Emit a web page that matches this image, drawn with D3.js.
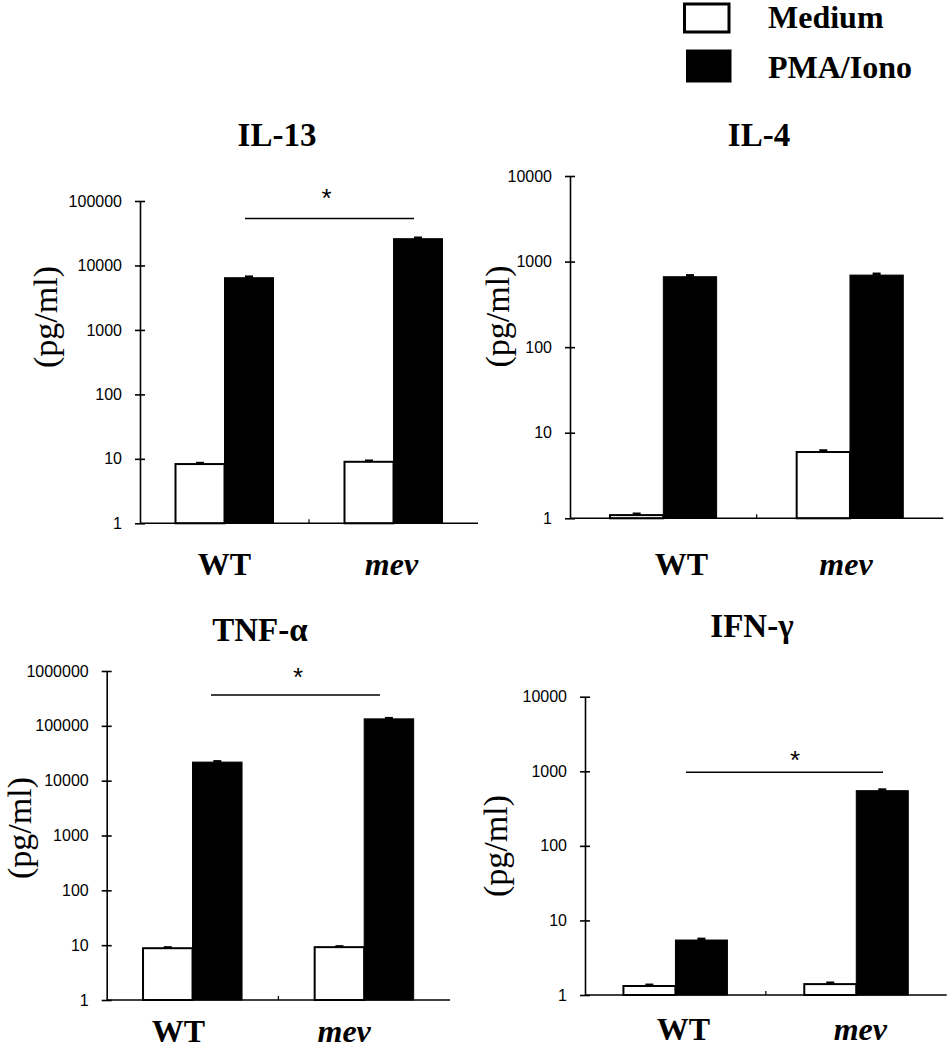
<!DOCTYPE html>
<html>
<head>
<meta charset="utf-8">
<script src="https://cdn.jsdelivr.net/npm/d3@7"></script>
<style>
  html, body { margin: 0; padding: 0; background: #fff; }
  svg { display: block; }
  .serif { font-family: "Liberation Serif", "Times New Roman", Times, "DejaVu Serif", "Noto Serif", serif; }
  .sans { font-family: "Liberation Sans", Arial, Helvetica, sans-serif; }
</style>
</head>
<body>
<svg id="chart" width="948" height="1050"></svg>
<script>
// ---------- DATA ----------
const groups = ["WT", "mev"];
const series = ["Medium", "PMA/Iono"];

const il13Medium = [8.3, 9.0];
const il13Pma = [6450, 26000];
const il13MediumErr = [0.3, 0.35];
const il13PmaErr = [250, 900];
const il13Ticks = [1, 10, 100, 1000, 10000, 100000];

const il4Medium = [1.09, 5.95];
const il4Pma = [665, 695];
const il4MediumErr = [0.04, 0.25];
const il4PmaErr = [25, 25];
const il4Ticks = [1, 10, 100, 1000, 10000];

const tnfMedium = [8.8, 9.2];
const tnfPma = [21800, 134000];
const tnfMediumErr = [0.3, 0.3];
const tnfPmaErr = [700, 4000];
const tnfTicks = [1, 10, 100, 1000, 10000, 100000, 1000000];

const ifngMedium = [1.32, 1.40];
const ifngPma = [5.46, 549];
const ifngMediumErr = [0.05, 0.06];
const ifngPmaErr = [0.2, 20];
const ifngTicks = [1, 10, 100, 1000, 10000];

const titles = ["IL-13", "IL-4", "TNF-\u03b1", "IFN-\u03b3"];
const yLabel = "(pg/ml)";

// ---------- LAYOUT ----------
const svg = d3.select("#chart");

const panels = [
  { title: titles[0], med: il13Medium, pma: il13Pma, medErr: il13MediumErr, pmaErr: il13PmaErr, ticks: il13Ticks,
    x0: 140, x1: 478, yTop: 201, yBot: 523.3, barW: 49,
    titleX: 277, titleY: 146, labX: 57, labY: 317,
    sig: { x0: 245, x1: 414, y: 218.5, sx: 326.5, sy: 196 }, groupY: 575, groupDx: [0, -2] },
  { title: titles[1], med: il4Medium, pma: il4Pma, medErr: il4MediumErr, pmaErr: il4PmaErr, ticks: il4Ticks,
    x0: 570, x1: 943.3, yTop: 176, yBot: 518.3, barW: 53.3,
    titleX: 759, titleY: 146, labX: 509, labY: 316.5,
    sig: null, groupY: 575, groupDx: [18, -4] },
  { title: titles[2], med: tnfMedium, pma: tnfPma, medErr: tnfMediumErr, pmaErr: tnfPmaErr, ticks: tnfTicks,
    x0: 106.7, x1: 450, yTop: 671, yBot: 1000, barW: 49.5,
    titleX: 260, titleY: 640.5, labX: 31, labY: 828,
    sig: { x0: 211, x1: 380, y: 695, sx: 298, sy: 675 }, groupY: 1042, groupDx: [-14, -20] },
  { title: titles[3], med: ifngMedium, pma: ifngPma, medErr: ifngMediumErr, pmaErr: ifngPmaErr, ticks: ifngTicks,
    x0: 585, x1: 946.7, yTop: 696.7, yBot: 995, barW: 52,
    titleX: 752, titleY: 637, labX: 507, labY: 846,
    sig: { x0: 686, x1: 883, y: 772.3, sx: 795, sy: 758 }, groupY: 1040, groupDx: [8, 4] }
];

panels.forEach(p => {
  const g = svg.append("g");
  const domainMax = p.ticks[p.ticks.length - 1];
  const y = d3.scaleLog().domain([1, domainMax]).range([p.yBot, p.yTop]);
  const x = d3.scaleBand().domain(groups).range([p.x0, p.x1]).padding(0);

  // title
  g.append("text").attr("class", "serif")
    .attr("x", p.titleX).attr("y", p.titleY)
    .attr("text-anchor", "middle")
    .attr("font-weight", "bold").attr("font-size", 33)
    .text(p.title);

  // y axis label
  g.append("text").attr("class", "serif")
    .attr("transform", `translate(${p.labX},${p.labY}) rotate(-90)`)
    .attr("text-anchor", "middle")
    .attr("font-size", 34)
    .text(yLabel);

  // bars
  groups.forEach((grp, i) => {
    const c = x(grp) + x.bandwidth() / 2;
    const xs = d3.scaleBand().domain(series).range([c - p.barW, c + p.barW]).padding(0);
    const vals = [p.med[i], p.pma[i]];
    const errs = [p.medErr[i], p.pmaErr[i]];
    series.forEach((s, j) => {
      const v = vals[j];
      const bx = xs(s);
      const bw = xs.bandwidth();
      g.append("rect")
        .attr("x", bx).attr("y", y(v))
        .attr("width", bw).attr("height", y(1) - y(v))
        .attr("fill", j === 0 ? "#fff" : "#000")
        .attr("stroke", "#000").attr("stroke-width", j === 0 ? 2 : 1);
      const cx = bx + bw / 2;
      g.append("line")
        .attr("x1", cx).attr("x2", cx)
        .attr("y1", y(v)).attr("y2", y(v + errs[j]))
        .attr("stroke", "#000").attr("stroke-width", 2);
      g.append("line")
        .attr("x1", cx - 4).attr("x2", cx + 4)
        .attr("y1", y(v + errs[j])).attr("y2", y(v + errs[j]))
        .attr("stroke", "#000").attr("stroke-width", 2.5);
    });
  });

  // y axis
  const ax = g.append("g").attr("transform", `translate(${p.x0},0)`)
    .call(d3.axisLeft(y).tickValues(p.ticks).tickFormat(d3.format("d")).tickSize(0).tickPadding(18));
  ax.select(".domain").attr("stroke", "#000").attr("stroke-width", 1.6);
  ax.selectAll(".tick text").attr("class", "sans").attr("font-family", null)
    .attr("font-size", 16).attr("fill", "#000");
  ax.selectAll(".tick").append("line")
    .attr("x1", -5).attr("x2", 5).attr("stroke", "#000").attr("stroke-width", 1.6);

  // x axis line
  g.append("line")
    .attr("x1", p.x0).attr("x2", p.x1)
    .attr("y1", p.yBot).attr("y2", p.yBot)
    .attr("stroke", "#000").attr("stroke-width", 1.6);
  const mid = x("mev");
  g.append("line")
    .attr("x1", mid).attr("x2", mid)
    .attr("y1", p.yBot).attr("y2", p.yBot - 4)
    .attr("stroke", "#000").attr("stroke-width", 1.2);

  // group labels
  groups.forEach((grp, i) => {
    g.append("text").attr("class", "serif")
      .attr("x", x(grp) + x.bandwidth() / 2 + p.groupDx[i])
      .attr("y", p.groupY)
      .attr("text-anchor", "middle")
      .attr("font-weight", "bold").attr("font-size", 32)
      .attr("font-style", i === 1 ? "italic" : "normal")
      .text(grp);
  });

  // significance
  if (p.sig) {
    g.append("line")
      .attr("x1", p.sig.x0).attr("x2", p.sig.x1)
      .attr("y1", p.sig.y).attr("y2", p.sig.y)
      .attr("stroke", "#000").attr("stroke-width", 1.6);
    g.append("text").attr("class", "sans")
      .attr("x", p.sig.sx).attr("y", p.sig.sy + 11)
      .attr("text-anchor", "middle")
      .attr("font-size", 26)
      .text("*");
  }
});

// legend
const leg = svg.append("g");
leg.append("rect").attr("x", 684.5).attr("y", 4).attr("width", 44.5).attr("height", 28)
  .attr("fill", "#fff").attr("stroke", "#000").attr("stroke-width", 3);
leg.append("rect").attr("x", 686).attr("y", 49.5).attr("width", 45.5).attr("height", 33)
  .attr("fill", "#000");
leg.append("text").attr("class", "serif").attr("x", 768).attr("y", 27.5)
  .attr("font-weight", "bold").attr("font-size", 32)
  .text(series[0]);
leg.append("text").attr("class", "serif").attr("x", 768).attr("y", 77.5)
  .attr("font-weight", "bold").attr("font-size", 32)
  .text(series[1]);
</script>
</body>
</html>
